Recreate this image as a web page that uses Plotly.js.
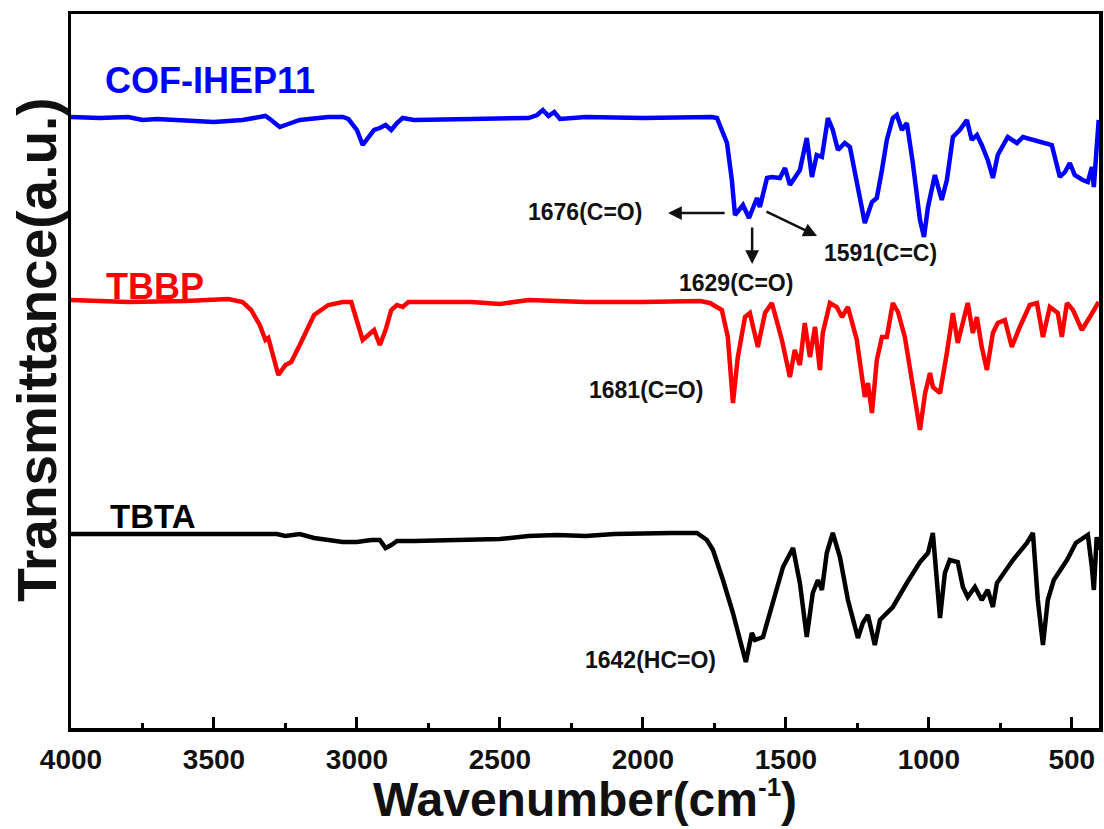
<!DOCTYPE html>
<html>
<head>
<meta charset="utf-8">
<script src="https://cdn.plot.ly/plotly-3.0.1.min.js"></script>
<style>html,body{margin:0;padding:0;background:#fff;}#chart{width:1104px;height:829px;}</style>
</head>
<body>
<div id="chart"></div>
<script>
// Wavenumbers (cm^-1) and transmittance (a.u., offset stacked)
const cofWn = [4000,3900,3800,3750,3700,3600,3500,3400,3350,3320,3300,3270,3240,3200,3100,3050,3030,3000,2980,2960,2940,2920,2900,2880,2860,2840,2800,2600,2400,2370,2350,2330,2310,2290,2200,2000,1800,1760,1741,1706,1689,1678,1650,1629,1601,1591,1566,1549,1521,1503,1486,1451,1427,1409,1392,1374,1353,1336,1318,1294,1276,1252,1224,1199,1182,1164,1147,1126,1112,1094,1077,1056,1031,1017,1003,979,955,937,916,892,867,850,832,815,794,776,759,724,692,671,636,601,570,542,524,507,490,462,444,430,423,413,406];
const cofT = [61.1,61.0,61.1,60.8,60.9,60.7,60.6,60.8,61.1,61.2,60.8,60.1,60.4,60.8,61.1,61.1,60.9,59.8,58.3,59.0,59.8,60.0,60.3,59.8,60.5,61.0,60.8,60.9,61.0,61.3,61.8,61.2,61.6,60.9,61.1,61.0,61.1,61.1,61.0,58.5,54.8,51.3,52.3,51.0,53.0,52.1,55.0,55.1,55.0,56.0,54.3,55.8,59.0,55.1,57.3,57.1,61.0,59.8,57.8,58.5,58.1,54.8,50.5,52.6,53.0,55.8,58.8,61.0,61.3,59.8,60.5,56.5,50.8,49.1,52.1,55.3,52.8,54.8,59.1,59.8,60.8,58.8,59.3,58.3,56.8,55.0,57.3,59.1,58.5,59.1,58.8,58.6,58.3,55.1,55.6,56.5,55.3,54.8,54.6,56.1,54.1,58.1,60.8];

const tbbpWn = [4000,3800,3600,3450,3400,3370,3340,3320,3310,3290,3275,3250,3230,3200,3150,3100,3050,3020,3000,2980,2960,2940,2920,2900,2880,2860,2840,2820,2600,2500,2400,2200,2000,1800,1766,1724,1703,1685,1668,1643,1626,1598,1573,1549,1514,1486,1469,1451,1434,1416,1398,1381,1371,1346,1322,1304,1283,1252,1224,1213,1199,1182,1164,1147,1126,1108,1084,1059,1031,1013,996,986,961,937,916,899,881,864,846,832,815,797,776,759,734,710,682,647,622,601,577,549,535,517,496,465,437,406];
const tbbpT = [42.8,42.6,42.7,42.9,42.6,41.8,40.3,38.8,39.0,36.8,35.3,36.3,36.6,38.3,41.3,42.3,42.6,42.6,40.8,38.8,39.3,39.8,38.3,39.8,41.8,42.3,42.1,42.6,42.6,42.4,42.8,42.6,42.6,42.7,42.5,41.8,39.1,32.5,37.1,41.1,41.5,38.1,41.5,42.5,38.8,35.1,37.8,36.3,40.5,37.1,40.1,35.8,39.5,42.5,42.1,41.1,42.1,38.8,33.1,34.5,31.5,36.8,39.1,39.1,42.5,41.6,39.1,34.8,29.8,33.5,35.5,34.1,33.5,37.5,41.5,38.5,40.8,42.5,39.5,41.1,38.1,35.8,39.5,40.5,40.8,38.1,40.1,42.3,42.5,39.1,42.1,41.5,39.1,42.5,41.8,39.8,41.1,42.6];

const tbtaWn = [4000,3600,3400,3280,3250,3200,3150,3050,3000,2950,2920,2900,2880,2860,2800,2600,2500,2400,2300,2200,2100,1900,1811,1776,1755,1720,1685,1654,1640,1619,1608,1580,1545,1510,1475,1451,1427,1406,1388,1374,1357,1336,1311,1283,1248,1231,1213,1189,1171,1126,1077,1031,1003,986,976,961,944,927,899,881,864,839,815,794,776,762,706,657,636,619,601,584,563,517,486,444,430,423,413,406];
const tbtaT = [19.4,19.4,19.4,19.4,19.2,19.4,19.0,18.6,18.6,18.8,18.8,18.0,18.3,18.7,18.7,18.8,18.9,19.2,19.3,19.2,19.4,19.5,19.5,18.8,17.8,14.8,11.5,8.1,6.6,9.5,8.8,9.1,12.8,16.1,18.0,14.5,9.1,13.5,14.8,13.8,17.5,19.5,17.1,12.8,9.0,10.5,11.3,8.3,10.8,12.1,14.5,16.6,17.5,19.5,16.1,11.0,15.5,16.8,16.6,14.1,13.1,14.1,12.8,13.8,12.1,14.5,16.8,18.5,19.5,12.8,8.3,12.8,14.8,16.8,18.5,19.3,16.1,13.8,19.1,17.8];

const seriesNames = ["COF-IHEP11", "TBBP", "TBTA"];
const seriesColors = ["#0000FF", "#FF0000", "#000000"];
const xTickVals = [4000, 3500, 3000, 2500, 2000, 1500, 1000, 500];

// Peak labels: text, position (wn, T)
const peakLabels = ["1676(C=O)", "1629(C=O)", "1591(C=C)", "1681(C=O)", "1642(HC=O)"];
const peakLabelWn = [2202, 1674, 1170, 1989, 1975];
const peakLabelT = [51.6, 44.5, 47.5, 33.8, 6.8];
// Arrows: head (wn,T) <- tail (wn,T)
const arrowHeadWn = [1912, 1618, 1391];
const arrowHeadT = [51.5, 46.4, 49.2];
const arrowTailWn = [1709, 1618, 1573];
const arrowTailT = [51.5, 50.2, 51.7];
// Series name label positions
const nameWn = [3514, 3706, 3713];
const nameT = [64.8, 44.2, 21.2];

const FONT = "Liberation Sans, Arial, Helvetica, sans-serif";

const xs = [cofWn, tbbpWn, tbtaWn];
const ys = [cofT, tbbpT, tbtaT];
const traces = seriesNames.map((n, i) => ({
  type: "scatter", mode: "lines", name: n,
  x: xs[i], y: ys[i],
  line: {color: seriesColors[i], width: 4.5},
  showlegend: false, hoverinfo: "skip"
}));

const annotations = [];
seriesNames.forEach((n, i) => {
  annotations.push({
    x: nameWn[i], y: nameT[i], xref: "x", yref: "y",
    text: "<b>" + n + "</b>", showarrow: false,
    font: {family: FONT, size: i === 2 ? 33 : 36, color: seriesColors[i]},
    xanchor: "center", yanchor: "middle"
  });
});
peakLabels.forEach((t, i) => {
  annotations.push({
    x: peakLabelWn[i], y: peakLabelT[i], xref: "x", yref: "y",
    text: "<b>" + t + "</b>", showarrow: false,
    font: {family: FONT, size: 23, color: "#111"},
    xanchor: "center", yanchor: "middle"
  });
});
arrowHeadWn.forEach((w, i) => {
  annotations.push({
    x: w, y: arrowHeadT[i], xref: "x", yref: "y",
    ax: arrowTailWn[i], ay: arrowTailT[i], axref: "x", ayref: "y",
    text: "", showarrow: true, arrowhead: 2, arrowsize: 1.1, arrowwidth: 2.5,
    arrowcolor: "#111"
  });
});
// Axis titles
annotations.push({
  xref: "paper", yref: "paper", x: 0.5, y: -0.099,
  text: "<b>Wavenumber(cm<sup><span style='font-size:26px'>-1</span></sup>)</b>", showarrow: false,
  font: {family: FONT, size: 48, color: "#111"},
  xanchor: "center", yanchor: "middle"
});
annotations.push({
  xref: "paper", yref: "paper", x: -0.033, y: 0.53,
  text: "<b>Transmittance(a.u.)</b>", showarrow: false, textangle: -90,
  font: {family: FONT, size: 55, color: "#111"},
  xanchor: "center", yanchor: "middle"
});

const layout = {
  width: 1104, height: 829,
  margin: {l: 71, r: 5, t: 14, b: 101},
  paper_bgcolor: "#fff", plot_bgcolor: "#fff",
  font: {family: FONT, color: "#111"},
  xaxis: {
    range: [4000, 405], showgrid: false, zeroline: false,
    showline: true, mirror: true, linecolor: "#000", linewidth: 3.5,
    ticks: "inside", ticklen: 11, tickwidth: 3, tickcolor: "#000",
    tickvals: xTickVals, ticktext: xTickVals.map(String),
    tickfont: {family: FONT, size: 28, color: "#111", weight: "bold"},
    minor: {dtick: 250, tick0: 0, ticks: "inside", ticklen: 5, tickwidth: 3, tickcolor: "#000", showgrid: false},
    ticklabelstandoff: 4
  },
  yaxis: {
    range: [0, 71.4], showgrid: false, zeroline: false,
    showline: true, mirror: true, linecolor: "#000", linewidth: 3.5,
    ticks: "", showticklabels: false
  },
  annotations: annotations
};

Plotly.newPlot("chart", traces, layout, {staticPlot: true, displayModeBar: false});
</script>
</body>
</html>
